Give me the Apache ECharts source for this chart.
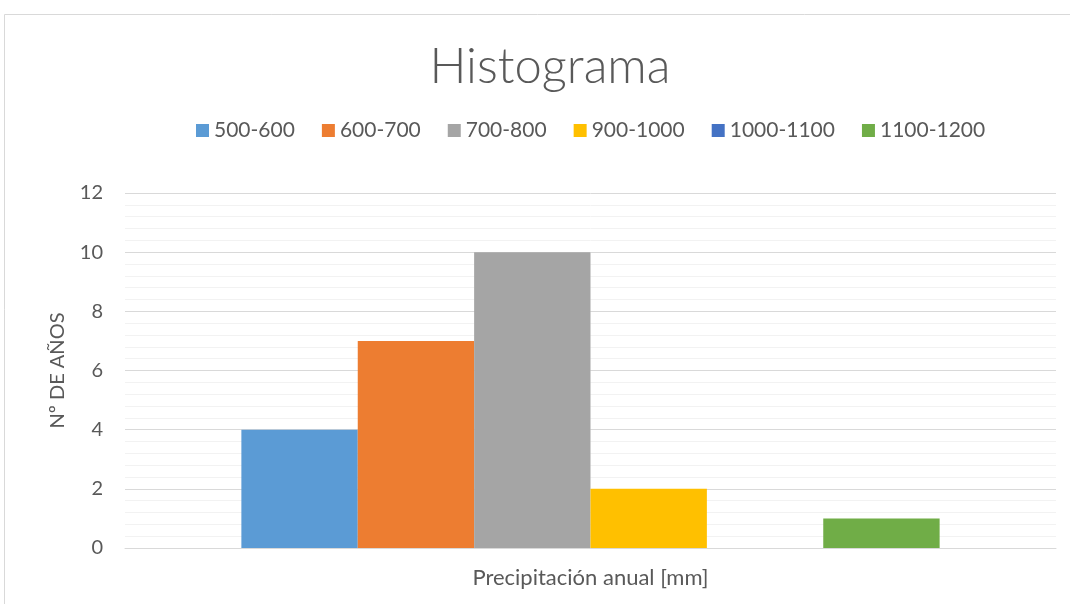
<!DOCTYPE html>
<html>
<head>
<meta charset="utf-8">
<script src="https://cdn.jsdelivr.net/npm/echarts@6/dist/echarts.min.js"></script>
<style>
  html, body { margin: 0; padding: 0; background: #fff; }
  #chart { width: 1070px; height: 604px; }
</style>
</head>
<body>
<div id="chart"></div>
<script>
// histogram data
const category = ['Precipitación anual [mm]'];
const seriesNames = ['500-600', '600-700', '700-800', '900-1000', '1000-1100', '1100-1200'];
const counts = [4, 7, 10, 2, 0, 1];
const colors = ['#5b9bd5', '#ed7d31', '#a5a5a5', '#ffc000', '#4472c4', '#70ad47'];

const chart = echarts.init(document.getElementById('chart'), null, { renderer: 'canvas' });
const font = 'Lato, "Open Sans", sans-serif';

const option = {
  animation: false,
  textStyle: { fontFamily: font },
  graphic: [{
    type: 'rect',
    shape: { x: 4.5, y: 14.5, width: 1080, height: 600 },
    style: { fill: 'none', stroke: '#d9d9d9', lineWidth: 1 },
    silent: true
  }],
  title: {
    text: 'Histograma',
    left: 545,
    top: 38,
    textAlign: 'center',
    textStyle: { fontFamily: font, fontSize: 49, fontWeight: 300, color: '#595959' }
  },
  legend: {
    top: 115,
    left: 191,
    itemWidth: 13,
    itemHeight: 13,
    itemGap: 27,
    icon: 'rect',
    textStyle: { fontFamily: font, fontSize: 21, color: '#595959' },
    data: seriesNames
  },
  grid: { left: 125, right: 14, top: 193, bottom: 56, containLabel: false },
  xAxis: {
    type: 'category',
    data: category,
    name: category[0],
    nameLocation: 'middle',
    nameGap: 19,
    nameTextStyle: { fontFamily: font, fontSize: 22, color: '#595959' },
    axisLabel: { show: false },
    axisTick: { show: false },
    axisLine: { lineStyle: { color: '#d9d9d9', width: 1 } }
  },
  yAxis: {
    type: 'value',
    min: 0,
    max: 12,
    interval: 2,
    name: 'Nº DE AÑOS',
    nameLocation: 'middle',
    nameGap: 57,
    nameTextStyle: { fontFamily: font, fontSize: 20, color: '#595959' },
    axisLabel: { fontFamily: font, fontSize: 20, color: '#595959', margin: 22 },
    axisLine: { show: false },
    axisTick: { show: false },
    splitLine: { lineStyle: { color: '#d9d9d9', width: 1 } },
    minorTick: { show: false, splitNumber: 5 },
    minorSplitLine: { show: true, lineStyle: { color: '#f2f2f2', width: 1 } }
  },
  series: seriesNames.map((name, i) => ({
    name: name,
    type: 'bar',
    data: [counts[i]],
    barGap: '0%',
    barCategoryGap: '25%',
    itemStyle: { color: colors[i] }
  }))
};

chart.setOption(option);
</script>
</body>
</html>
